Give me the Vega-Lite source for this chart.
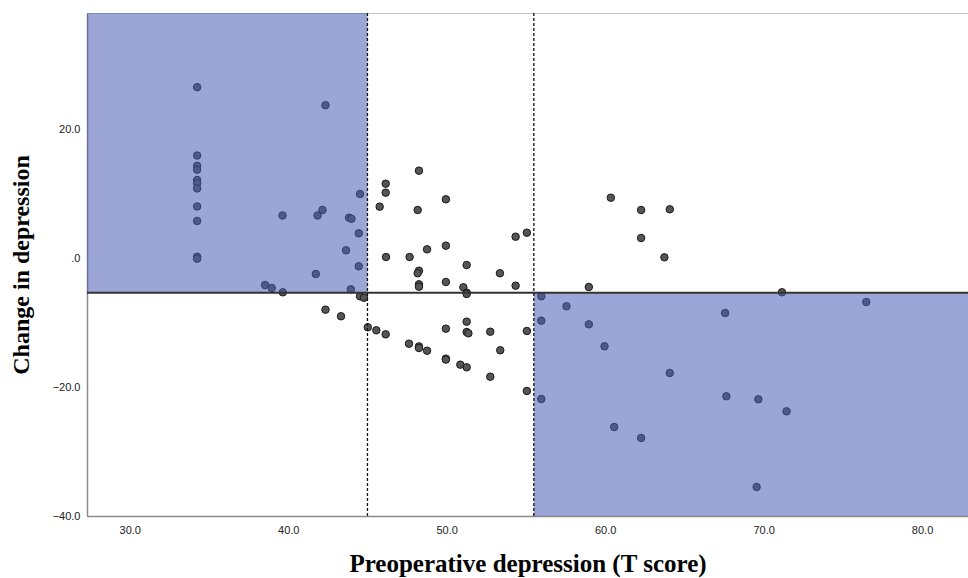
{
  "$schema": "https://vega.github.io/schema/vega-lite/v6.json",
  "width": 881,
  "height": 503,
  "autosize": {"type": "none"},
  "padding": {"left": 87, "top": 13, "right": 0, "bottom": 62},
  "background": "white",
  "config": {
    "view": {"stroke": "#c4c4c4", "strokeWidth": 1},
    "axis": {
      "labelFont": "Liberation Sans",
      "labelFontSize": 11,
      "labelColor": "#222222",
      "titleFont": "Liberation Serif",
      "titleFontWeight": "bold",
      "titleColor": "#000000",
      "ticks": false,
      "grid": false,
      "domainColor": "#8c8c8c",
      "domainWidth": 1.5
    }
  },
  "datasets": {
    "pts": [
      {"pre": 34.25, "chg": 26.5}, {"pre": 34.25, "chg": 15.9}, {"pre": 34.25, "chg": 14.3}, {"pre": 34.25, "chg": 13.7},
      {"pre": 34.25, "chg": 12.1}, {"pre": 34.25, "chg": 11.6}, {"pre": 34.25, "chg": 10.8}, {"pre": 34.25, "chg": 8.0},
      {"pre": 34.25, "chg": 5.75}, {"pre": 34.25, "chg": 0.2}, {"pre": 34.25, "chg": -0.1},
      {"pre": 42.35, "chg": 23.7}, {"pre": 39.64, "chg": 6.6}, {"pre": 41.85, "chg": 6.6}, {"pre": 42.16, "chg": 7.45},
      {"pre": 43.84, "chg": 6.26}, {"pre": 43.99, "chg": 6.1}, {"pre": 44.53, "chg": 9.93}, {"pre": 44.45, "chg": 3.84},
      {"pre": 43.65, "chg": 1.2}, {"pre": 44.45, "chg": -1.28}, {"pre": 41.74, "chg": -2.47}, {"pre": 38.54, "chg": -4.18},
      {"pre": 38.96, "chg": -4.64}, {"pre": 39.66, "chg": -5.31}, {"pre": 43.95, "chg": -4.85}, {"pre": 44.53, "chg": -5.93},
      {"pre": 44.78, "chg": -6.15}, {"pre": 42.35, "chg": -8.0}, {"pre": 43.33, "chg": -9.03}, {"pre": 45.02, "chg": -10.74},
      {"pre": 45.56, "chg": -11.2}, {"pre": 46.15, "chg": -11.83}, {"pre": 48.25, "chg": 13.55}, {"pre": 46.15, "chg": 11.53},
      {"pre": 46.15, "chg": 10.14}, {"pre": 45.77, "chg": 7.97}, {"pre": 48.17, "chg": 7.45}, {"pre": 49.95, "chg": 9.11},
      {"pre": 54.35, "chg": 3.31}, {"pre": 55.06, "chg": 3.93}, {"pre": 46.17, "chg": 0.16}, {"pre": 47.66, "chg": 0.16},
      {"pre": 48.76, "chg": 1.35}, {"pre": 49.95, "chg": 1.92}, {"pre": 51.26, "chg": -1.08}, {"pre": 48.25, "chg": -1.96},
      {"pre": 48.17, "chg": -2.36}, {"pre": 48.25, "chg": -4.07}, {"pre": 48.25, "chg": -4.44}, {"pre": 49.95, "chg": -3.71},
      {"pre": 53.36, "chg": -2.36}, {"pre": 54.35, "chg": -4.28}, {"pre": 51.05, "chg": -4.54}, {"pre": 51.26, "chg": -5.37},
      {"pre": 51.26, "chg": -5.57}, {"pre": 51.26, "chg": -9.86}, {"pre": 49.95, "chg": -10.95}, {"pre": 51.26, "chg": -11.47},
      {"pre": 51.37, "chg": -11.67}, {"pre": 52.75, "chg": -11.42}, {"pre": 55.06, "chg": -11.31}, {"pre": 47.62, "chg": -13.28},
      {"pre": 48.25, "chg": -13.7}, {"pre": 48.25, "chg": -13.95}, {"pre": 48.76, "chg": -14.37}, {"pre": 49.95, "chg": -15.6},
      {"pre": 49.95, "chg": -15.75}, {"pre": 50.86, "chg": -16.53}, {"pre": 51.26, "chg": -16.94}, {"pre": 53.38, "chg": -14.3},
      {"pre": 52.75, "chg": -18.4}, {"pre": 55.06, "chg": -20.61}, {"pre": 55.97, "chg": -21.86}, {"pre": 55.97, "chg": -5.93},
      {"pre": 55.97, "chg": -9.71}, {"pre": 60.36, "chg": 9.36}, {"pre": 62.27, "chg": 7.45}, {"pre": 64.08, "chg": 7.56},
      {"pre": 62.27, "chg": 3.11}, {"pre": 63.74, "chg": 0.11}, {"pre": 58.97, "chg": -4.49}, {"pre": 57.56, "chg": -7.48},
      {"pre": 58.97, "chg": -10.28}, {"pre": 59.96, "chg": -13.69}, {"pre": 64.08, "chg": -17.82}, {"pre": 60.57, "chg": -26.2},
      {"pre": 62.27, "chg": -27.9}, {"pre": 67.57, "chg": -8.52}, {"pre": 67.65, "chg": -21.44}, {"pre": 71.16, "chg": -5.31},
      {"pre": 76.48, "chg": -6.81}, {"pre": 69.67, "chg": -21.9}, {"pre": 71.45, "chg": -23.77}, {"pre": 69.56, "chg": -35.5}
    ],
    "zones": [
      {"x1": 27.3, "x2": 45.0, "y1": -5.4, "y2": 38},
      {"x1": 55.5, "x2": 82.9, "y1": -40, "y2": -5.4}
    ],
    "vlines": [{"x": 45.0}, {"x": 55.5}],
    "hline": [{"y": -5.4}]
  },
  "layer": [
    {
      "data": {"name": "pts"},
      "mark": {"type": "point", "filled": true, "shape": "circle", "size": 56, "fill": "#555555", "stroke": "#1a1a1a", "strokeWidth": 1, "opacity": 1, "fillOpacity": 1},
      "encoding": {
        "x": {
          "field": "pre", "type": "quantitative",
          "scale": {"domain": [27.3, 82.9], "nice": false, "zero": false},
          "axis": {
            "title": "Preoperative depression (T score)",
            "titleFontSize": 25,
            "values": [30, 40, 50, 60, 70, 80],
            "labelExpr": "format(datum.value, '.1f')",
            "labelPadding": 8,
            "titlePadding": 16
          }
        },
        "y": {
          "field": "chg", "type": "quantitative",
          "scale": {"domain": [-40, 38], "nice": false, "zero": false},
          "axis": {
            "title": "Change in depression",
            "titleFontSize": 24,
            "values": [-40, -20, 0, 20],
            "labelExpr": "datum.value == 0 ? '.0' : format(datum.value, '.1f')",
            "labelPadding": 7,
            "titleX": -54
          }
        }
      }
    },
    {
      "data": {"name": "zones"},
      "mark": {"type": "rect", "color": "#495DB4", "opacity": 0.55},
      "encoding": {
        "x": {"field": "x1", "type": "quantitative"},
        "x2": {"field": "x2"},
        "y": {"field": "y1", "type": "quantitative"},
        "y2": {"field": "y2"}
      }
    },
    {
      "data": {"name": "hline"},
      "mark": {"type": "rule", "color": "#333333", "strokeWidth": 2},
      "encoding": {"y": {"field": "y", "type": "quantitative"}}
    },
    {
      "data": {"name": "vlines"},
      "mark": {"type": "rule", "color": "#111111", "strokeWidth": 1.3, "strokeDash": [3, 2]},
      "encoding": {"x": {"field": "x", "type": "quantitative"}}
    }
  ]
}
